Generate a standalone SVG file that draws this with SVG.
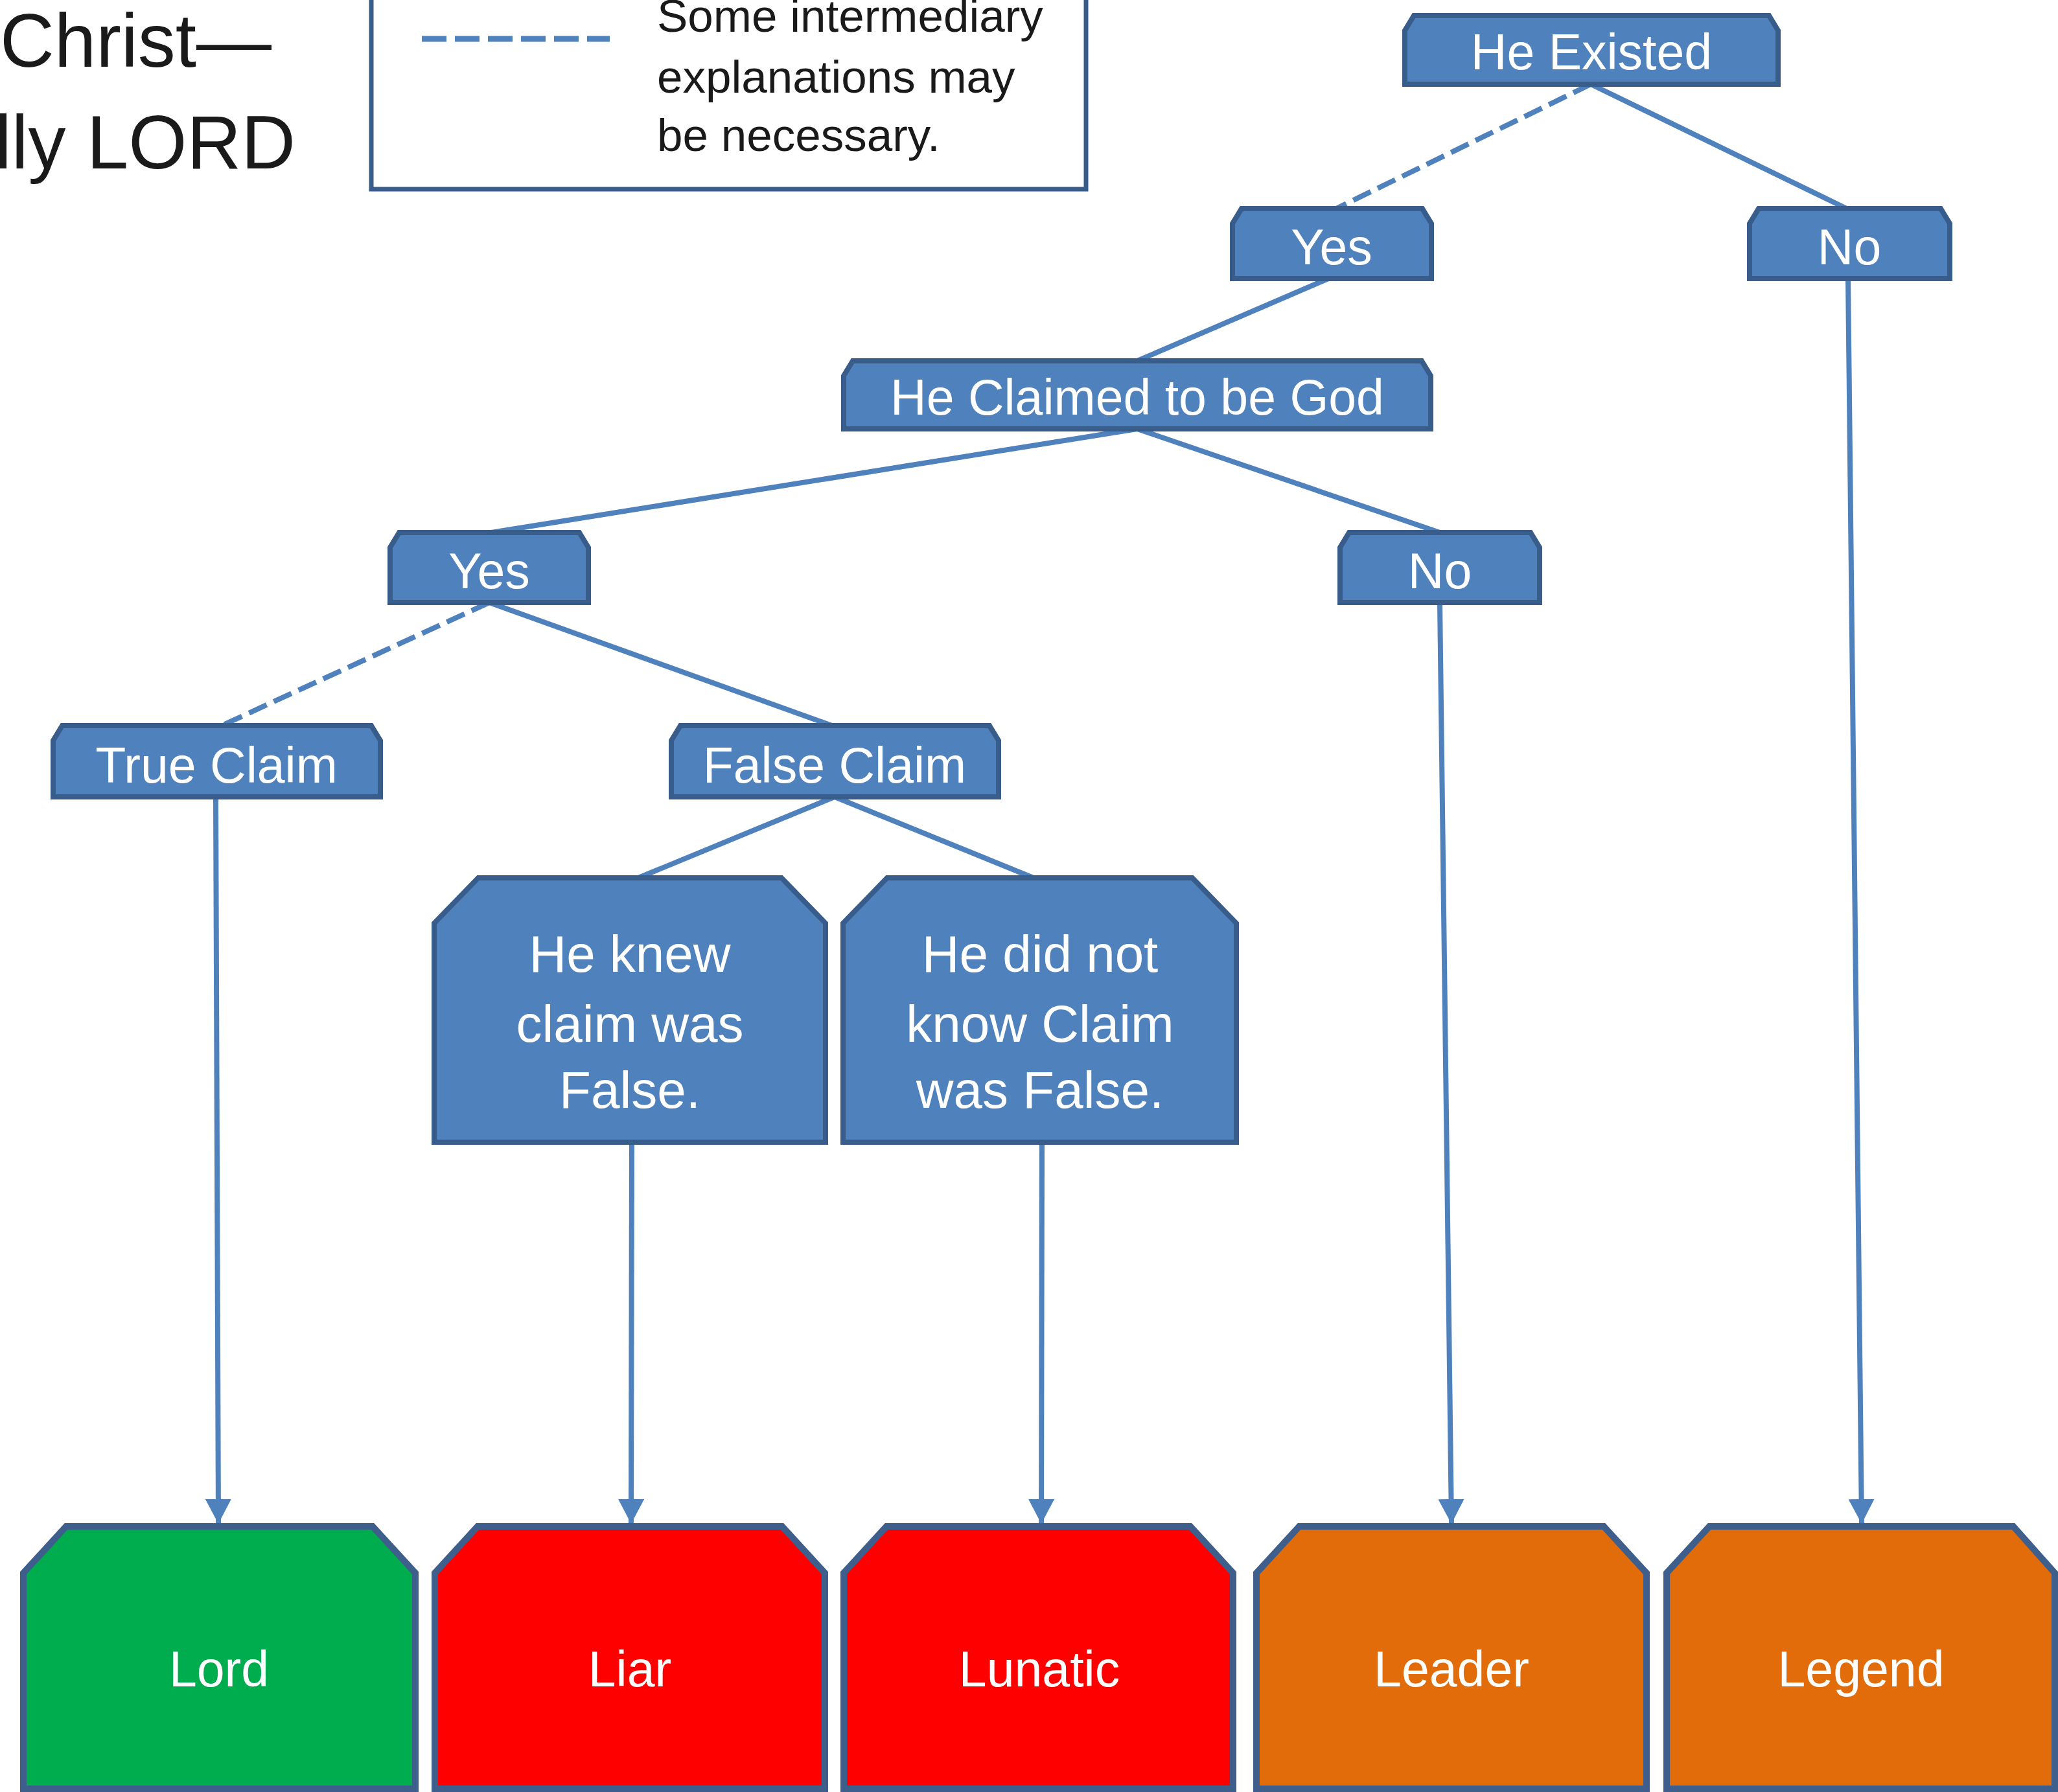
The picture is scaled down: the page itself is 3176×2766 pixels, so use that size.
<svg xmlns="http://www.w3.org/2000/svg" width="3176" height="2766" viewBox="0 0 3176 2766">
<style>
.bg{fill:#ffffff}
.node{fill:#4F81BD;stroke:#385D8A;stroke-width:8;stroke-linejoin:miter}
.term{stroke:#3E5E8B;stroke-width:10}
.lord{fill:#00AD4E}
.red{fill:#FF0000}
.orange{fill:#E26B0A}
.lbl{font-family:"Liberation Sans",Arial,sans-serif;font-size:77px;fill:#ffffff;text-anchor:middle}
.big{font-size:80px}
.title{font-family:"Liberation Sans",Arial,sans-serif;font-size:116px;fill:#1a1a1a}
.leg{font-family:"Liberation Sans",Arial,sans-serif;font-size:71px;fill:#1a1a1a}
.edge{stroke:#4F81BD;stroke-width:8;fill:none}
.dash{stroke-dasharray:30 12}
</style>
<defs>
<marker id="arrow" markerUnits="userSpaceOnUse" markerWidth="38" markerHeight="40" viewBox="0 0 38 40" refX="38" refY="20" orient="auto">
<path d="M0,0 L38,20 L0,40 z" fill="#4F81BD"/>
</marker>
</defs>
<rect class="bg" x="0" y="0" width="3176" height="2766"/>

<g id="title">
<text class="title" x="0" y="103">Christ—</text>
<text class="title" x="-8" y="260">lly LORD</text>
</g>

<g id="legend">
<rect x="573" y="-20" width="1103" height="312" fill="#ffffff" stroke="#385D8A" stroke-width="7"/>
<line x1="651" y1="60" x2="941" y2="60" stroke="#4F81BD" stroke-width="9" stroke-dasharray="38 13"/>
<text class="leg" x="1014" y="49">Some intermediary</text>
<text class="leg" x="1014" y="143">explanations may</text>
<text class="leg" x="1014" y="233">be necessary.</text>
</g>

<g id="connectors">
<line class="edge dash" x1="2455" y1="130" x2="2062" y2="322"/>
<line class="edge" x1="2455" y1="130" x2="2850" y2="322"/>
<line class="edge" x1="2050" y1="430" x2="1755" y2="557"/>
<line class="edge" x1="1755" y1="662" x2="758" y2="822"/>
<line class="edge" x1="1755" y1="662" x2="2222" y2="822"/>
<line class="edge dash" x1="755" y1="930" x2="342" y2="1120"/>
<line class="edge" x1="755" y1="930" x2="1284" y2="1120"/>
<line class="edge" x1="1288" y1="1230" x2="985" y2="1355"/>
<line class="edge" x1="1288" y1="1230" x2="1595" y2="1355"/>
<line class="edge" x1="333" y1="1230" x2="337" y2="2352" marker-end="url(#arrow)"/>
<line class="edge" x1="975" y1="1763" x2="974" y2="2352" marker-end="url(#arrow)"/>
<line class="edge" x1="1608" y1="1763" x2="1607" y2="2352" marker-end="url(#arrow)"/>
<line class="edge" x1="2222" y1="930" x2="2240" y2="2352" marker-end="url(#arrow)"/>
<line class="edge" x1="2852" y1="430" x2="2873" y2="2352" marker-end="url(#arrow)"/>
</g>

<g id="n-he-existed">
<polygon class="node" points="2182,24 2730,24 2744,47 2744,130 2168,130 2168,47"/>
<text class="lbl" x="2456" y="107">He Existed</text>
</g>
<g id="n-yes1">
<polygon class="node" points="1916,322 2195,322 2209,345 2209,430 1902,430 1902,345"/>
<text class="lbl" x="2055" y="408">Yes</text>
</g>
<g id="n-no1">
<polygon class="node" points="2714,322 2995,322 3009,345 3009,430 2700,430 2700,345"/>
<text class="lbl" x="2854" y="408">No</text>
</g>
<g id="n-claimed">
<polygon class="node" points="1316,557 2194,557 2208,580 2208,662 1302,662 1302,580"/>
<text class="lbl" x="1755" y="640">He Claimed to be God</text>
</g>
<g id="n-yes2">
<polygon class="node" points="616,822 894,822 908,845 908,930 602,930 602,845"/>
<text class="lbl" x="755" y="908">Yes</text>
</g>
<g id="n-no2">
<polygon class="node" points="2082,822 2362,822 2376,845 2376,930 2068,930 2068,845"/>
<text class="lbl" x="2222" y="908">No</text>
</g>
<g id="n-true-claim">
<polygon class="node" points="96,1120 573,1120 587,1143 587,1230 82,1230 82,1143"/>
<text class="lbl" x="334" y="1208">True Claim</text>
</g>
<g id="n-false-claim">
<polygon class="node" points="1050,1120 1527,1120 1541,1143 1541,1230 1036,1230 1036,1143"/>
<text class="lbl" x="1288" y="1208">False Claim</text>
</g>
<g id="n-he-knew">
<polygon class="node" points="738,1355 1206,1355 1274,1425 1274,1763 670,1763 670,1425"/>
<text class="lbl big" x="972" y="1500">He knew</text>
<text class="lbl big" x="972" y="1608">claim was</text>
<text class="lbl big" x="972" y="1710">False.</text>
</g>
<g id="n-he-did-not">
<polygon class="node" points="1369,1355 1840,1355 1908,1425 1908,1763 1301,1763 1301,1425"/>
<text class="lbl big" x="1605" y="1500">He did not</text>
<text class="lbl big" x="1605" y="1608">know Claim</text>
<text class="lbl big" x="1605" y="1710">was False.</text>
</g>
<g id="n-lord">
<polygon class="term lord" points="102,2356 575,2356 641,2428 641,2761 36,2761 36,2428"/>
<text class="lbl" x="338" y="2603">Lord</text>
</g>
<g id="n-liar">
<polygon class="term red" points="737,2356 1207,2356 1273,2428 1273,2761 671,2761 671,2428"/>
<text class="lbl" x="972" y="2603">Liar</text>
</g>
<g id="n-lunatic">
<polygon class="term red" points="1368,2356 1837,2356 1903,2428 1903,2761 1302,2761 1302,2428"/>
<text class="lbl" x="1604" y="2603">Lunatic</text>
</g>
<g id="n-leader">
<polygon class="term orange" points="2005,2356 2475,2356 2541,2428 2541,2761 1939,2761 1939,2428"/>
<text class="lbl" x="2240" y="2603">Leader</text>
</g>
<g id="n-legend">
<polygon class="term orange" points="2638,2356 3107,2356 3171,2428 3171,2761 2572,2761 2572,2428"/>
<text class="lbl" x="2872" y="2603">Legend</text>
</g>
</svg>
